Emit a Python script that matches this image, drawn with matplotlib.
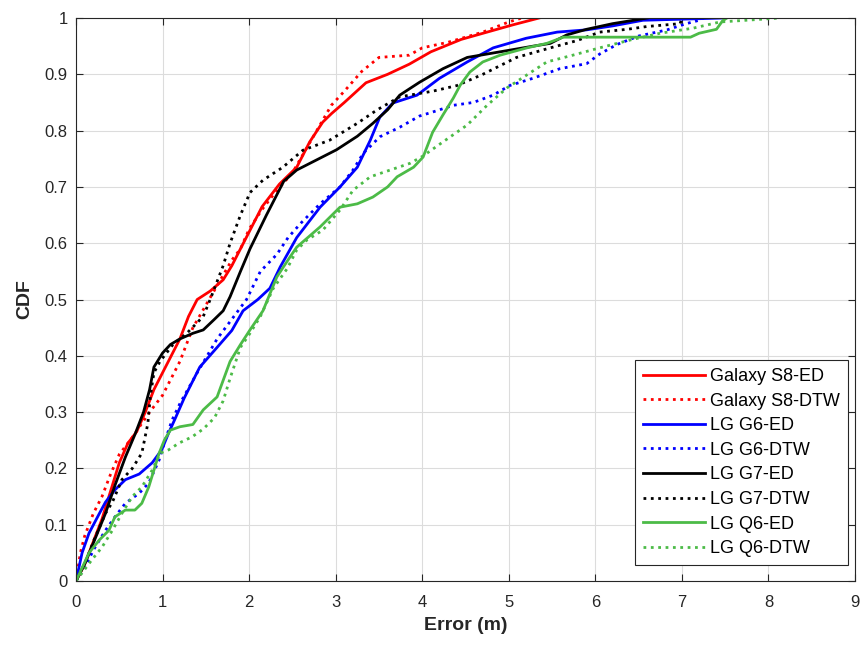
import matplotlib
matplotlib.use("Agg")
from matplotlib import pyplot as plt

plt.rcParams['font.family'] = ['Liberation Sans', 'DejaVu Sans']

# CDF curves of localisation error per phone / matching method (x in m)
s8_ed_x = [0, 0.1, 0.2, 0.3, 0.4, 0.5, 0.6, 0.7, 0.8, 0.9, 1.0, 1.1, 1.2, 1.3, 1.4, 1.55, 1.7, 1.8,
           1.9, 2.0, 2.15, 2.35, 2.55, 2.7, 2.85, 2.95, 3.1, 3.35, 3.6, 3.85, 4.1, 4.45, 4.75, 5.05, 5.35]
s8_ed_y = [0, 0.03, 0.07, 0.11, 0.16, 0.21, 0.245, 0.265, 0.3, 0.34, 0.37, 0.4, 0.43, 0.47, 0.5, 0.515, 0.535, 0.56,
           0.59, 0.62, 0.665, 0.705, 0.735, 0.78, 0.815, 0.83, 0.85, 0.885, 0.9, 0.918, 0.94, 0.962, 0.975, 0.988, 1.0]

s8_dtw_x = [0, 0.05, 0.1, 0.2, 0.3, 0.4, 0.5, 0.65, 0.76, 0.85, 1.0, 1.1, 1.2, 1.35, 1.5, 1.65, 1.8, 1.9,
            2.0, 2.15, 2.3, 2.5, 2.65, 2.8, 2.95, 3.1, 3.3, 3.5, 3.85, 4.0, 4.3, 4.7, 5.0, 5.15]
s8_dtw_y = [0, 0.05, 0.08, 0.12, 0.15, 0.19, 0.225, 0.255, 0.28, 0.3, 0.33, 0.36, 0.39, 0.45, 0.49, 0.53, 0.57, 0.59,
            0.625, 0.66, 0.69, 0.725, 0.765, 0.805, 0.845, 0.87, 0.905, 0.93, 0.934, 0.947, 0.957, 0.975, 0.993, 1.0]

g6_ed_x = [0, 0.07, 0.15, 0.27, 0.34, 0.45, 0.57, 0.73, 0.88, 0.99, 1.07, 1.15, 1.25, 1.43, 1.63, 1.8, 1.93,
           2.1, 2.24, 2.36, 2.55, 2.82, 3.05, 3.25, 3.4, 3.51, 3.66, 3.94, 4.2, 4.52, 4.82, 5.2, 5.56, 5.9,
           6.2, 6.55, 7.47]
g6_ed_y = [0, 0.05, 0.085, 0.12, 0.14, 0.162, 0.18, 0.19, 0.21, 0.233, 0.263, 0.29, 0.325, 0.38, 0.415, 0.445, 0.48,
           0.5, 0.52, 0.558, 0.61, 0.664, 0.7, 0.735, 0.783, 0.824, 0.849, 0.863, 0.893, 0.922, 0.947, 0.964, 0.975, 0.979,
           0.986, 0.996, 1.0]

g6_dtw_x = [0, 0.1, 0.22, 0.34, 0.45, 0.57, 0.73, 0.84, 0.96, 1.03, 1.11, 1.2, 1.4, 1.63, 1.8, 1.97, 2.13,
            2.32, 2.45, 2.6, 2.82, 3.05, 3.2, 3.32, 3.51, 3.74, 3.97, 4.12, 4.36, 4.59, 4.82, 5.01, 5.28,
            5.59, 5.9, 6.05, 6.25, 6.5, 6.83, 7.05, 7.2, 7.25]
g6_dtw_y = [0, 0.025, 0.06, 0.09, 0.114, 0.138, 0.156, 0.174, 0.215, 0.25, 0.286, 0.315, 0.37, 0.43, 0.465, 0.5, 0.55,
            0.58, 0.61, 0.636, 0.67, 0.7, 0.73, 0.76, 0.789, 0.806, 0.826, 0.833, 0.845, 0.85, 0.863, 0.88, 0.893,
            0.91, 0.919, 0.936, 0.953, 0.968, 0.979, 0.99, 0.996, 1.0]

g7_ed_x = [0, 0.1, 0.18, 0.34, 0.45, 0.57, 0.68, 0.78, 0.85, 0.9, 1.0, 1.09, 1.2, 1.35, 1.47, 1.6, 1.7, 1.78,
           1.9, 2.01, 2.2, 2.4, 2.55, 2.78, 3.01, 3.25, 3.43, 3.6, 3.74, 3.97, 4.24, 4.52, 4.9, 5.28, 5.48,
           5.67, 5.9, 6.2, 6.6]
g7_ed_y = [0, 0.03, 0.06, 0.12, 0.17, 0.22, 0.26, 0.3, 0.34, 0.38, 0.405, 0.42, 0.43, 0.44, 0.446, 0.465, 0.48, 0.505,
           0.55, 0.59, 0.65, 0.71, 0.73, 0.748, 0.766, 0.79, 0.813, 0.837, 0.863, 0.886, 0.91, 0.93, 0.94, 0.95, 0.955,
           0.97, 0.98, 0.99, 1.0]

g7_dtw_x = [0, 0.1, 0.2, 0.34, 0.42, 0.53, 0.65, 0.76, 0.83, 0.86, 0.9, 0.97, 1.12, 1.28, 1.47, 1.55, 1.7,
            1.78, 1.9, 2.01, 2.16, 2.39, 2.62, 2.93, 3.25, 3.48, 3.74, 4.12, 4.4, 4.7, 5.09, 5.48, 5.79, 6.05,
            6.37, 6.6, 6.98, 7.0]
g7_dtw_y = [0, 0.03, 0.07, 0.12, 0.14, 0.18, 0.2, 0.227, 0.28, 0.33, 0.37, 0.39, 0.42, 0.44, 0.47, 0.5, 0.56,
            0.6, 0.65, 0.69, 0.712, 0.735, 0.765, 0.783, 0.813, 0.837, 0.86, 0.87, 0.88, 0.9, 0.93, 0.947, 0.96, 0.975,
            0.98, 0.985, 0.99, 1.0]

q6_ed_x = [0, 0.15, 0.27, 0.38, 0.45, 0.57, 0.68, 0.76, 0.84, 0.9, 0.96, 1.02, 1.09, 1.2, 1.35, 1.47, 1.63,
           1.78, 1.9, 2.01, 2.16, 2.32, 2.47, 2.55, 2.82, 3.05, 3.25, 3.43, 3.6, 3.71, 3.9, 4.01, 4.12, 4.24,
           4.36, 4.44, 4.55, 4.7, 4.9, 5.21, 5.44, 5.63, 7.1, 7.2, 7.4, 7.47, 7.52]
q6_ed_y = [0, 0.05, 0.073, 0.09, 0.114, 0.126, 0.126, 0.138, 0.167, 0.197, 0.227, 0.25, 0.268, 0.274, 0.278, 0.304, 0.327,
           0.39, 0.42, 0.446, 0.48, 0.54, 0.575, 0.593, 0.629, 0.664, 0.67, 0.682, 0.7, 0.718, 0.735, 0.753, 0.797, 0.828,
           0.858, 0.881, 0.904, 0.922, 0.934, 0.947, 0.955, 0.966, 0.966, 0.973, 0.98, 0.995, 1.0]

q6_dtw_x = [0, 0.18, 0.3, 0.42, 0.53, 0.65, 0.76, 0.88, 0.97, 1.07, 1.19, 1.34, 1.47, 1.6, 1.7, 1.78, 1.9,
            2.01, 2.13, 2.28, 2.44, 2.55, 2.67, 2.85, 3.05, 3.2, 3.4, 3.63, 3.86, 4.01, 4.24, 4.52, 4.75, 4.98,
            5.21, 5.44, 5.74, 6.05, 6.43, 6.75, 7.13, 7.44, 7.64, 8.13]
q6_dtw_y = [0, 0.037, 0.06, 0.09, 0.12, 0.15, 0.167, 0.197, 0.227, 0.233, 0.245, 0.256, 0.27, 0.29, 0.32, 0.36, 0.415,
            0.44, 0.47, 0.52, 0.555, 0.588, 0.606, 0.623, 0.659, 0.694, 0.718, 0.73, 0.742, 0.755, 0.78, 0.81, 0.845, 0.876,
            0.899, 0.922, 0.934, 0.947, 0.962, 0.973, 0.982, 0.993, 0.995, 1.0]

labels = ['Galaxy S8-ED', 'Galaxy S8-DTW', 'LG G6-ED', 'LG G6-DTW',
          'LG G7-ED', 'LG G7-DTW', 'LG Q6-ED', 'LG Q6-DTW']
xs = [s8_ed_x, s8_dtw_x, g6_ed_x, g6_dtw_x, g7_ed_x, g7_dtw_x, q6_ed_x, q6_dtw_x]
ys = [s8_ed_y, s8_dtw_y, g6_ed_y, g6_dtw_y, g7_ed_y, g7_dtw_y, q6_ed_y, q6_dtw_y]
colors = ['#ff0000', '#ff0000', '#0000ff', '#0000ff', '#000000', '#000000', '#4cbb47', '#4cbb47']
styles = ['-', ':', '-', ':', '-', ':', '-', ':']

y_ticks = [0, 0.1, 0.2, 0.3, 0.4, 0.5, 0.6, 0.7, 0.8, 0.9, 1]
y_tick_labels = ['0', '0.1', '0.2', '0.3', '0.4', '0.5', '0.6', '0.7', '0.8', '0.9', '1']

fig = plt.figure(figsize=(8.61, 6.46), dpi=100)
ax = fig.add_axes([0.0883, 0.1006, 0.9047, 0.8715])

for x, y, c, ls, lab in zip(xs, ys, colors, styles, labels):
    ax.plot(x, y, color=c, linestyle=ls, linewidth=2.0, label=lab)

ax.set_xlim(0, 9)
ax.set_ylim(0, 1)
ax.set_xticks(range(10))
ax.set_yticks(y_ticks)
ax.set_yticklabels(y_tick_labels)
ax.grid(True, color='#dcdcdc', linewidth=0.8)
ax.set_axisbelow(True)
ax.tick_params(direction='in', top=True, right=True, labelsize=12,
               colors='#262626', length=5, width=0.8)
ax.tick_params(axis='x', pad=10)
ax.tick_params(axis='y', pad=6)
for sp in ax.spines.values():
    sp.set_color('#262626')
    sp.set_linewidth(0.8)

ax.set_xlabel('Error (m)', fontsize=14, fontweight='bold', color='#262626', labelpad=5)
ax.set_ylabel('CDF', fontsize=14, fontweight='bold', color='#262626', labelpad=8)

leg = ax.legend(loc='lower right', bbox_to_anchor=(0.991, 0.028), fontsize=13,
                fancybox=False, framealpha=1, edgecolor='#262626', handlelength=3.4,
                borderaxespad=0, labelspacing=0.42, handletextpad=0.3, borderpad=0.45)
leg.get_frame().set_linewidth(0.8)

fig.savefig('out.png', dpi=100)
